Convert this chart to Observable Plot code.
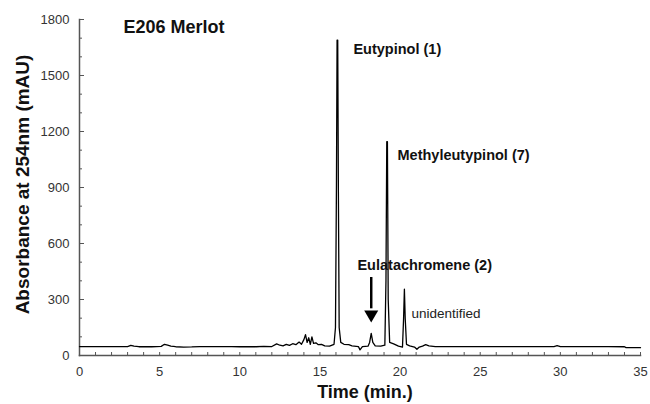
<!DOCTYPE html>
<html>
<head>
<meta charset="utf-8">
<script src="https://cdn.jsdelivr.net/npm/d3@7"></script>
<script src="https://cdn.jsdelivr.net/npm/@observablehq/plot@0.6"></script>
<style>
  html, body { margin: 0; padding: 0; background: #fff; }
  #chart svg { display: block; }
</style>
</head>
<body>
<div id="chart"></div>
<script>
// Chromatogram trace: retention time (min) and absorbance (mAU)
const time = [0, 1, 2, 3.0, 3.2, 3.4, 3.7, 4.5, 5.1, 5.3, 5.5, 5.7, 6.0, 6.5, 7.0, 7.5, 8.5, 9.5, 10, 10.5, 11, 11.5, 12.0,
  12.3, 12.5, 12.7, 12.9, 13.1, 13.3, 13.5, 13.7, 13.85, 14.0, 14.1, 14.2, 14.3, 14.4, 14.5, 14.6, 14.75, 14.9, 15.1, 15.3, 15.6,
  15.88, 15.97, 16.03, 16.07, 16.11, 16.15, 16.2, 16.3, 16.5, 16.8, 17.0, 17.4, 17.5, 17.65, 18.0, 18.1, 18.2, 18.3, 18.45,
  18.8, 19.05, 19.12, 19.17, 19.21, 19.26, 19.35, 19.6, 19.9, 20.15, 20.22, 20.27, 20.32, 20.4, 20.6, 20.9, 21.05, 21.2, 21.4,
  21.6, 21.8, 22.2, 24, 26, 28, 29.6, 29.8, 30, 31, 33, 34.0, 34.1, 35];
const absorbance = [48, 48, 48, 48, 54, 50, 47, 47, 49, 60, 55, 50, 47, 45, 46, 48, 48, 48, 47, 48, 47, 49, 48,
  62, 55, 52, 60, 54, 63, 58, 72, 60, 85, 112, 70, 95, 60, 100, 65, 68, 58, 60, 52, 50,
  60, 150, 900, 1690, 1690, 900, 150, 70, 60, 58, 52, 48, 30, 47, 50, 70, 118, 70, 52,
  50, 55, 400, 1145, 1145, 300, 70, 62, 50, 45, 200, 355, 200, 60, 52, 45, 33, 45, 50,
  58, 52, 48, 48, 48, 48, 48, 53, 48, 48, 48, 47, 42, 42];

// Axis ticks
const xTicks = [0, 5, 10, 15, 20, 25, 30, 35];
const xMinorTicks = d3.range(0, 36, 1);
const yTicks = [0, 300, 600, 900, 1200, 1500, 1800];
const yMinorTicks = d3.range(0, 1801, 100);

// Text
const title = "E206 Merlot";
const xTitle = "Time (min.)";
const yTitle = "Absorbance at 254nm (mAU)";

// Peak annotations (label, time, absorbance)
const peakLabels = ["Eutypinol (1)", "Methyleutypinol (7)", "Eulatachromene (2)"];
const peakLabelTimes = [17.09, 19.84, 17.34];
const peakLabelValues = [1639, 1071, 482];
const unidentifiedLabel = ["unidentified"];
const unidentifiedTime = [20.71];
const unidentifiedValue = [225];
const titleTime = [2.74];
const titleValue = [1757];

// Arrow pointing at the Eulatachromene peak
const arrowTime = [18.2];
const arrowTop = [418];
const arrowShaftEnd = [250];
const arrowHead = [220];

const trace = time.map((t, i) => ({t, a: absorbance[i]}));
const peaks = peakLabels.map((l, i) => ({l, t: peakLabelTimes[i], a: peakLabelValues[i]}));

const chart = Plot.plot({
  width: 650,
  height: 404,
  marginLeft: 79,
  marginRight: 10,
  marginTop: 19,
  marginBottom: 49,
  style: {fontFamily: "'Liberation Sans', Arial, sans-serif", background: "#fff"},
  x: {domain: [0, 35]},
  y: {domain: [0, 1800]},
  marks: [
    Plot.axisY({ticks: yTicks, tickFormat: d => String(d), tickSize: 0, tickPadding: 10, fontSize: 13, fill: "#333", label: null}),
    Plot.axisY({ticks: yMinorTicks, tickSize: -3, text: null, label: null, stroke: "#555"}),
    Plot.axisY({ticks: yTicks, tickSize: -5, text: null, label: null, stroke: "#555"}),
    Plot.axisX({ticks: xTicks, tickFormat: d => String(d), tickSize: 0, tickPadding: 11, fontSize: 13, fill: "#333", label: null}),
    Plot.axisX({ticks: xMinorTicks, tickSize: -3, text: null, label: null, stroke: "#555"}),
    Plot.frame({anchor: "left", stroke: "#555", strokeWidth: 1.5}),
    Plot.frame({anchor: "bottom", stroke: "#555", strokeWidth: 1.5}),
    Plot.line(trace, {x: "t", y: "a", stroke: "#000", strokeWidth: 1.3}),
    Plot.text([yTitle], {frameAnchor: "left", dx: -57, dy: -3, rotate: -90, textAnchor: "middle", lineAnchor: "middle", fontWeight: "bold", fontSize: 19, fill: "#111"}),
    Plot.text([xTitle], {frameAnchor: "bottom", dy: 37, dx: 5, textAnchor: "middle", lineAnchor: "middle", fontWeight: "bold", fontSize: 18, fill: "#111"}),
    Plot.text([title], {x: titleTime, y: titleValue, text: d => d, textAnchor: "start", fontWeight: "bold", fontSize: 18, fill: "#111"}),
    Plot.text(peaks, {x: "t", y: "a", text: "l", textAnchor: "start", fontWeight: "bold", fontSize: 14.5, fill: "#111"}),
    Plot.text(unidentifiedLabel, {x: unidentifiedTime, y: unidentifiedValue, text: d => d, textAnchor: "start", fontSize: 13.5, fill: "#222"}),
    Plot.ruleX(arrowTime, {x: d => d, y1: arrowTop, y2: arrowShaftEnd, stroke: "#000", strokeWidth: 2.5}),
    Plot.dot(arrowTime, {x: d => d, y: arrowHead, symbol: "triangle", rotate: 180, r: 5.2, fill: "#000", stroke: "none"})
  ]
});
document.getElementById("chart").append(chart);
</script>
</body>
</html>
